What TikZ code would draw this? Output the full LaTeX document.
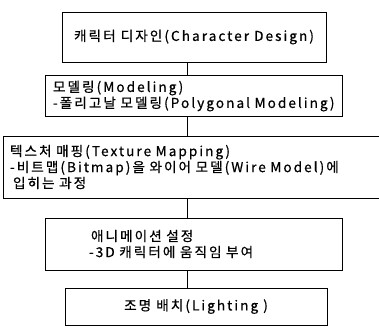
\documentclass[tikz,border=0pt]{standalone}
\usepackage{fontspec}
\setmainfont{Noto Sans CJK KR}[LetterSpace=15, FakeBold=0.6]
\begin{document}
\begin{tikzpicture}[x=1pt,y=-1pt,
  font=\fontsize{13.6}{16}\selectfont,
  stage/.style={draw, line width=0.9pt, inner ysep=0pt}]
\useasboundingbox (0,0) rectangle (379,327);

% Process boxes
\node[stage, minimum width=264, minimum height=50] (design) at (194,37) {캐릭터 디자인(Character Design)};
\node[stage, minimum width=297, minimum height=41, inner xsep=8, text width=281, align=left] (model) at (193.5,96)
  {모델링(Modeling)\\-폴리고날 모델링(Polygonal Modeling)};
\node[stage, minimum width=382, minimum height=62, inner xsep=7, text width=368, align=left] (texture) at (194,167)
  {텍스처 매핑(Texture Mapping)\\-비트맵(Bitmap)을 와이어 모델(Wire Model)에\\\hspace*{3pt}입히는 과정};
\node[stage, minimum width=297, minimum height=52, inner xsep=44, text width=209, align=left] (anim) at (193.5,244)
  {\hspace*{2pt}애니메이션 설정\\-3D 캐릭터에 움직임 부여};
\node[stage, minimum width=262, minimum height=37] (light) at (196,306.5) {조명 배치(Lighting )};

% Connectors
\coordinate (spine) at (187,0);
\draw[line width=0.9pt] (design.south -| spine) -- (model.north -| spine);
\draw[line width=0.9pt] (model.south -| spine) -- (texture.north -| spine);
\draw[line width=0.9pt] (texture.south -| spine) -- (anim.north -| spine);
\draw[line width=0.9pt] (anim.south -| spine) -- (light.north -| spine);
\end{tikzpicture}
\end{document}
